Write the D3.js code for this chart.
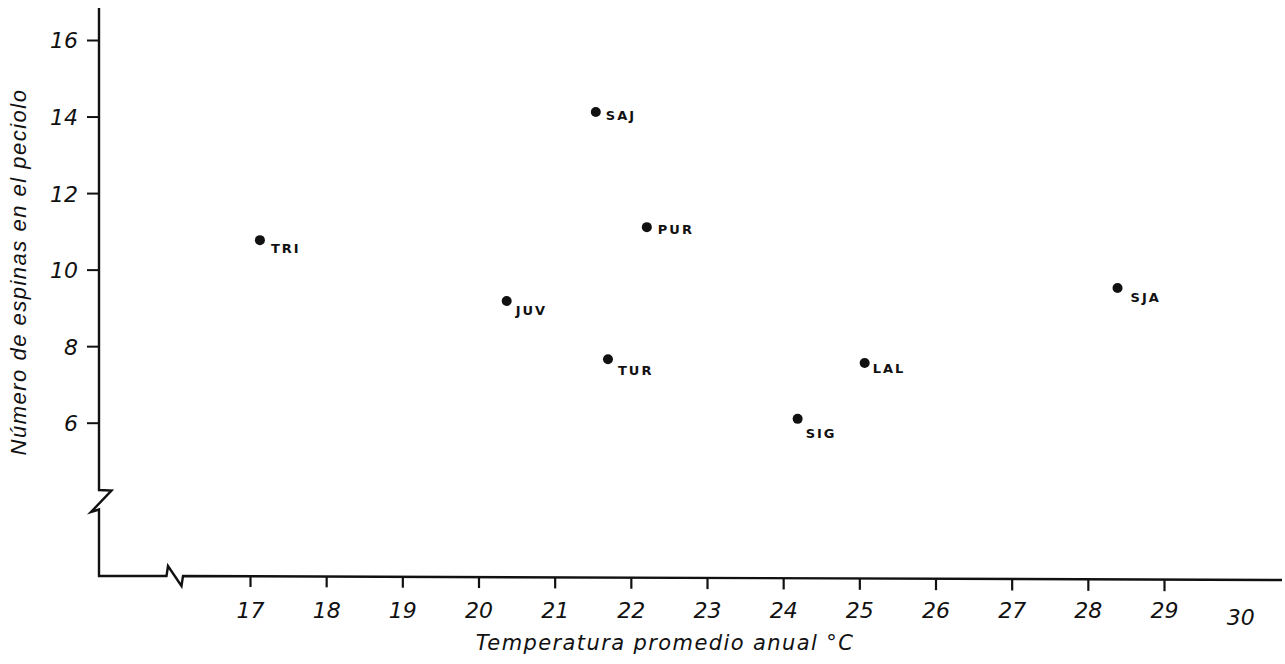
<!DOCTYPE html>
<html>
<head>
<meta charset="utf-8">
<script src="https://cdn.jsdelivr.net/npm/d3@7"></script>
<style>
  html, body { margin: 0; padding: 0; background: #fff; }
  svg { display: block; }
</style>
</head>
<body>
<svg id="chart" width="1285" height="664"></svg>
<script>
// ---- data ----
const sites = ["TRI", "SAJ", "PUR", "JUV", "TUR", "LAL", "SIG", "SJA"];
const temperature = [17.13, 21.54, 22.21, 20.37, 21.70, 25.07, 24.19, 28.39];
const spines = [10.77, 14.12, 11.11, 9.18, 7.66, 7.56, 6.10, 9.52];
const xTicks = [17, 18, 19, 20, 21, 22, 23, 24, 25, 26, 27, 28, 29, 30];
const yTicks = [6, 8, 10, 12, 14, 16];
const xTitle = "Temperatura promedio anual °C";
const yTitle = "Número de espinas en el peciolo";

// label placement (styling, not data)
const labelOffset = {
  TRI: [11, 8], SAJ: [10, 3], PUR: [11, 2], JUV: [9, 9],
  TUR: [10, 11], LAL: [8, 5], SIG: [8, 14], SJA: [13, 9]
};

const svg = d3.select("#chart");
const x = d3.scaleLinear().domain([17, 29]).range([250, 1164]);
const y = d3.scaleLinear().domain([6, 16]).range([422.7, 40]);

const axisX0 = 99, axisY0 = 576;
const ink = "#111";

// ---- axis lines with breaks ----
const yPath = d3.path();
yPath.moveTo(axisX0, 8);
yPath.lineTo(axisX0, 490);
yPath.lineTo(111.5, 490.5);
yPath.lineTo(91, 512);
yPath.lineTo(axisX0, 509.5);
yPath.lineTo(axisX0, axisY0);
// x axis
yPath.lineTo(166.5, axisY0);
yPath.lineTo(168, 566);
yPath.lineTo(181.5, 586);
yPath.lineTo(183, axisY0);
yPath.lineTo(1282, axisY0 + 4);
svg.append("path")
  .attr("d", yPath.toString())
  .attr("fill", "none")
  .attr("stroke", ink)
  .attr("stroke-width", 2.4)
  .attr("stroke-linejoin", "miter");

// ---- x axis ticks ----
const xAxis = d3.axisBottom(x)
  .tickValues(xTicks)
  .tickSize(11)
  .tickPadding(10)
  .tickFormat(d3.format("d"));
const gx = svg.append("g")
  .attr("transform", `translate(0,${axisY0})`)
  .call(xAxis);
gx.select(".domain").remove();
gx.selectAll(".tick line")
  .attr("stroke", ink)
  .attr("stroke-width", 2.2)
  .attr("y2", d => d === 30 ? 0 : 11)
  .attr("transform", d => `translate(0,${(d - 17) * 0.35})`);
gx.selectAll(".tick text")
  .attr("fill", ink)
  .attr("font-family", "DejaVu Sans, sans-serif")
  .attr("font-style", "oblique")
  .attr("font-size", 22)
  .attr("dy", d => d === 30 ? "1.25em" : "0.95em");

// ---- y axis ticks ----
const yAxis = d3.axisLeft(y)
  .tickValues(yTicks)
  .tickSize(12)
  .tickPadding(9)
  .tickFormat(d3.format("d"));
const gy = svg.append("g")
  .attr("transform", `translate(${axisX0},0)`)
  .call(yAxis);
gy.select(".domain").remove();
gy.selectAll(".tick line").attr("stroke", ink).attr("stroke-width", 2);
gy.selectAll(".tick text")
  .attr("fill", ink)
  .attr("font-family", "DejaVu Sans, sans-serif")
  .attr("font-style", "oblique")
  .attr("font-size", 22)
  .attr("dy", "0.36em");

// ---- titles ----
svg.append("text")
  .attr("x", 665)
  .attr("y", 650)
  .attr("text-anchor", "middle")
  .attr("font-family", "DejaVu Sans, sans-serif")
  .attr("font-style", "oblique")
  .attr("font-size", 21)
  .attr("letter-spacing", 1.4)
  .attr("fill", ink)
  .text(xTitle);

svg.append("text")
  .attr("transform", "translate(26,272) rotate(-90)")
  .attr("text-anchor", "middle")
  .attr("font-family", "Liberation Sans, Arial, sans-serif")
  .attr("font-style", "italic")
  .attr("font-size", 22)
  .attr("letter-spacing", 1.5)
  .attr("fill", ink)
  .text(yTitle);

// ---- points ----
const data = sites.map((s, i) => ({ site: s, t: temperature[i], n: spines[i] }));
svg.append("g").selectAll("circle")
  .data(data)
  .join("circle")
  .attr("cx", d => x(d.t))
  .attr("cy", d => y(d.n))
  .attr("r", 5)
  .attr("fill", ink);

svg.append("g").selectAll("text")
  .data(data)
  .join("text")
  .attr("x", d => x(d.t) + labelOffset[d.site][0])
  .attr("y", d => y(d.n) + labelOffset[d.site][1])
  .attr("dy", "0.36em")
  .attr("font-family", "DejaVu Sans, sans-serif")
  .attr("font-weight", "bold")
  .attr("font-size", 13)
  .attr("letter-spacing", 2)
  .attr("fill", ink)
  .text(d => d.site);
</script>
</body>
</html>
